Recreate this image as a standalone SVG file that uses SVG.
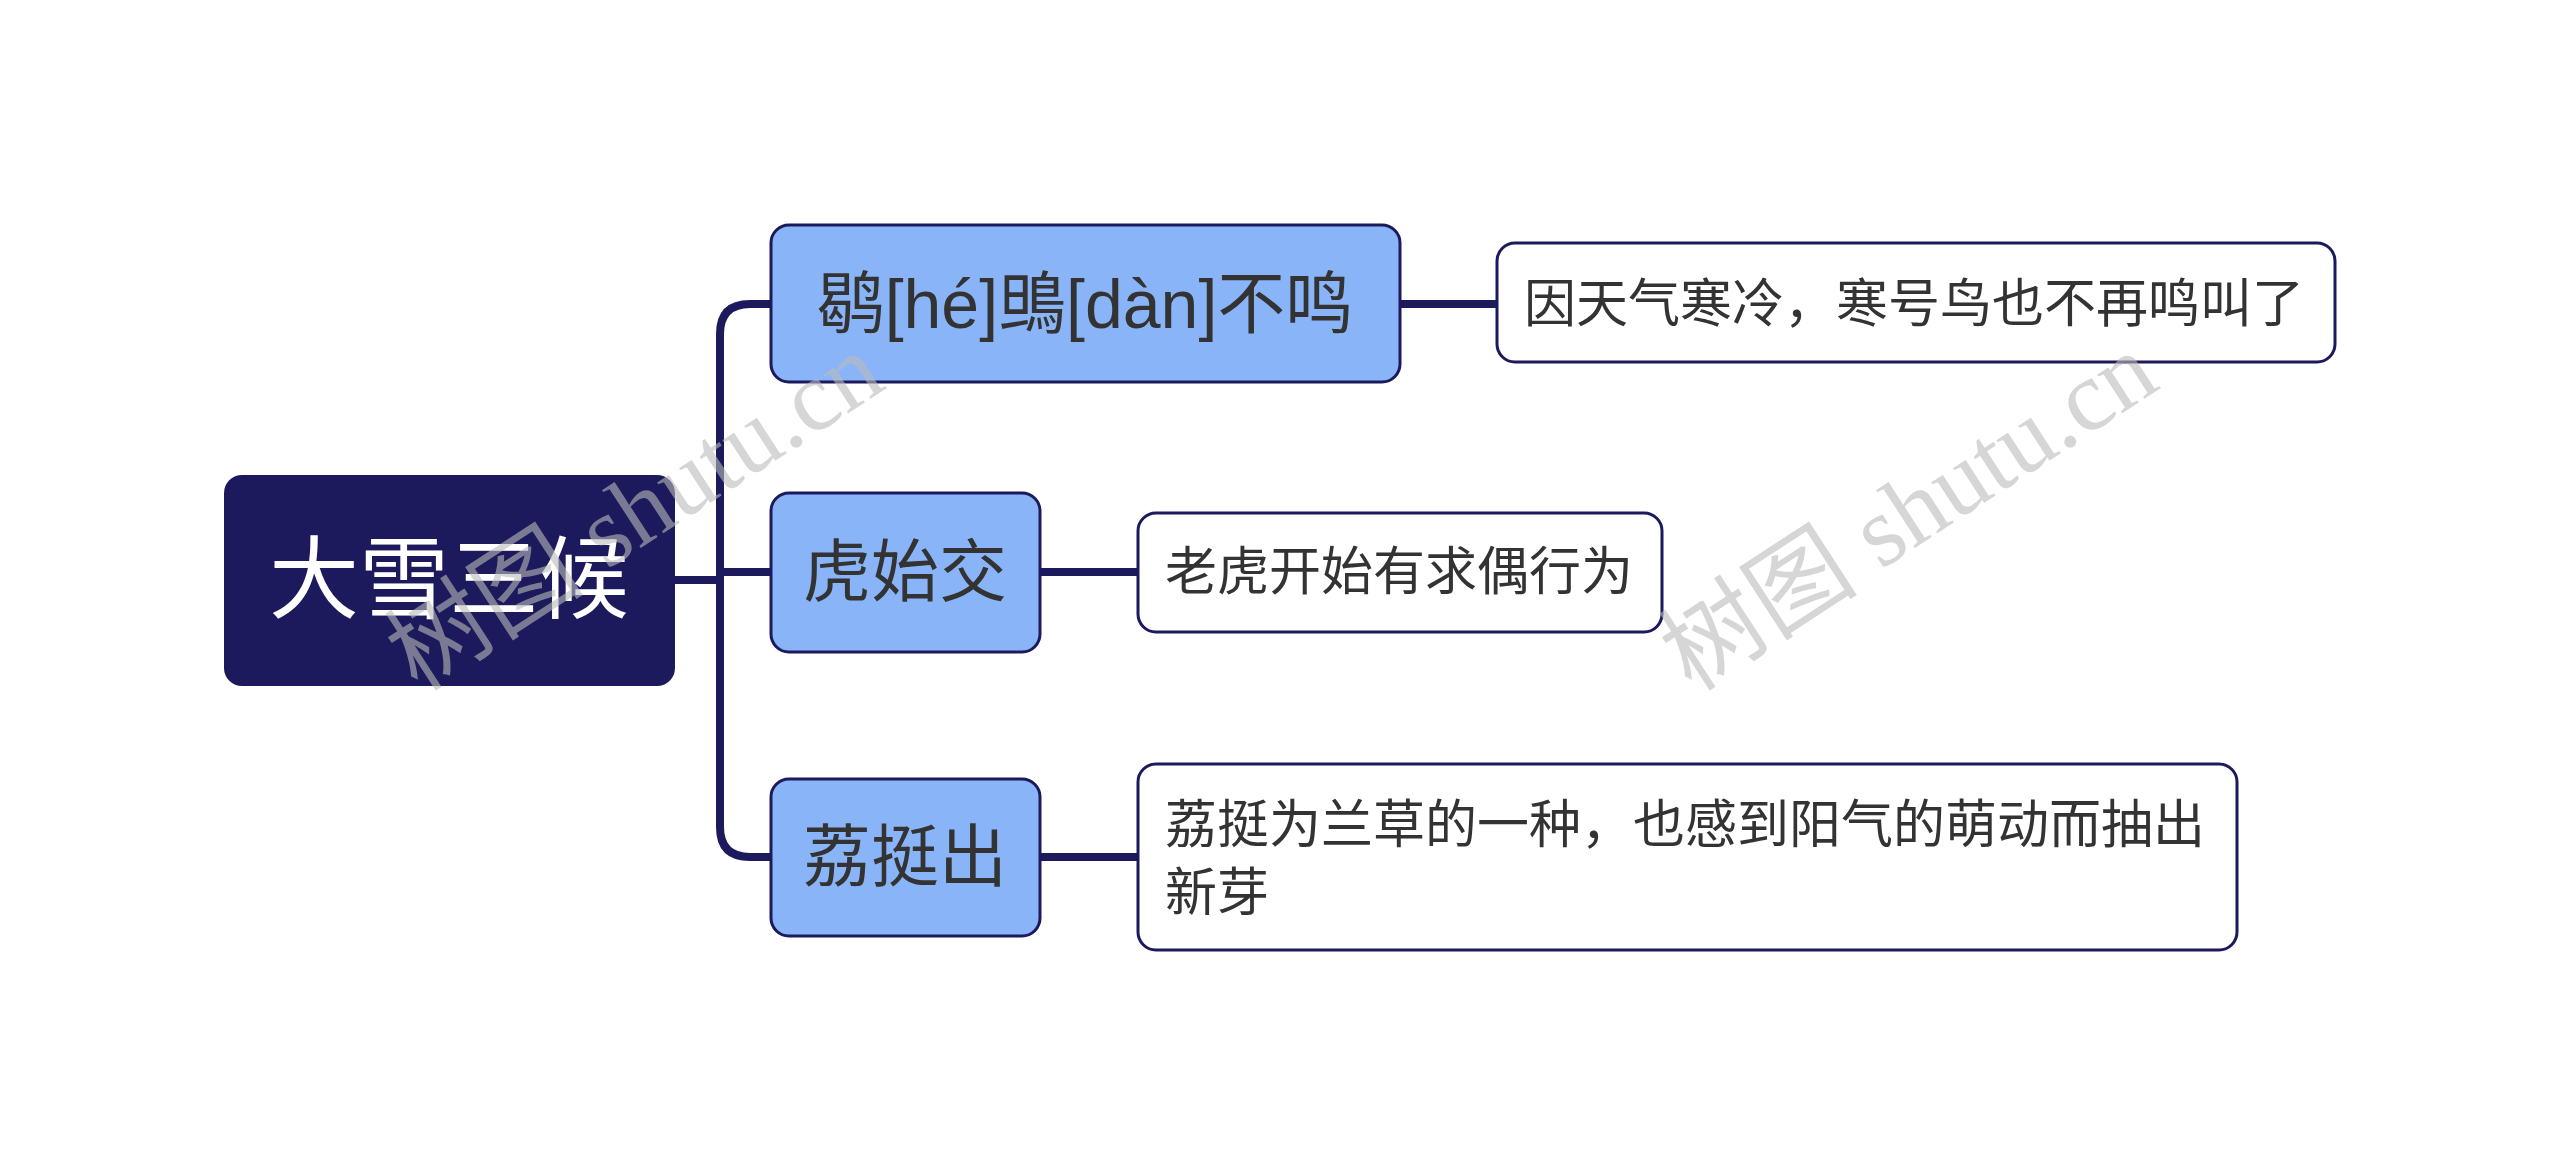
<svg xmlns="http://www.w3.org/2000/svg" width="2560" height="1175" viewBox="0 0 2560 1175">
<style>
.c{fill:none;stroke:#1c1a5c;stroke-width:8;stroke-linecap:round}
.b{fill:#8ab4f8;stroke:#1c1a5c;stroke-width:3}
.l{fill:#fff;stroke:#1c1a5c;stroke-width:3}
.t{font-family:"Liberation Sans","Noto Sans CJK SC",sans-serif;fill:#333;dominant-baseline:central}
.w{font-family:"Liberation Serif","Noto Sans CJK SC",serif;fill:#bbb;opacity:0.6;font-size:100px;text-anchor:middle}
</style>
<rect width="2560" height="1175" fill="#fff"/>
<g id="connectors">
<path class="c" d="M675 580H720"/>
<path class="c" d="M771 304H750Q720 304 720 334V827Q720 857 750 857H771"/>
<path class="c" d="M720 572H771"/>
<path class="c" d="M1400 304H1497"/>
<path class="c" d="M1040 572H1138"/>
<path class="c" d="M1040 857H1138"/>
</g>
<g id="root"><rect x="224" y="475" width="451" height="211" rx="18" fill="#1c1a5c"/>
<text class="t" x="449" y="580" font-size="90" text-anchor="middle" style="fill:#fff">大雪三候</text></g>
<g id="n1"><rect class="b" x="771" y="225" width="629" height="157" rx="18"/>
<text class="t" x="1085" y="304" font-size="68" text-anchor="middle">鹖[hé]鴠[dàn]不鸣</text></g>
<g id="n2"><rect class="b" x="771" y="493" width="269" height="159" rx="18"/>
<text class="t" x="905" y="572" font-size="68" text-anchor="middle">虎始交</text></g>
<g id="n3"><rect class="b" x="771" y="779" width="269" height="157" rx="18"/>
<text class="t" x="905" y="857" font-size="68" text-anchor="middle">荔挺出</text></g>
<g id="l1"><rect class="l" x="1497" y="243" width="838" height="119" rx="18"/>
<text class="t" x="1524" y="304" font-size="52">因天气寒冷，寒号鸟也不再鸣叫了</text></g>
<g id="l2"><rect class="l" x="1138" y="513" width="524" height="119" rx="18"/>
<text class="t" x="1165" y="572" font-size="52">老虎开始有求偶行为</text></g>
<g id="l3"><rect class="l" x="1138" y="764" width="1099" height="186" rx="18"/>
<text class="t" x="1165" y="825" font-size="52">荔挺为兰草的一种，也感到阳气的萌动而抽出</text>
<text class="t" x="1165" y="893" font-size="52">新芽</text></g>
<g id="watermarks">
<text class="w" transform="translate(653,540) rotate(-33)">树图 shutu.cn</text>
<text class="w" transform="translate(1927,540) rotate(-33)">树图 shutu.cn</text>
</g>
</svg>
